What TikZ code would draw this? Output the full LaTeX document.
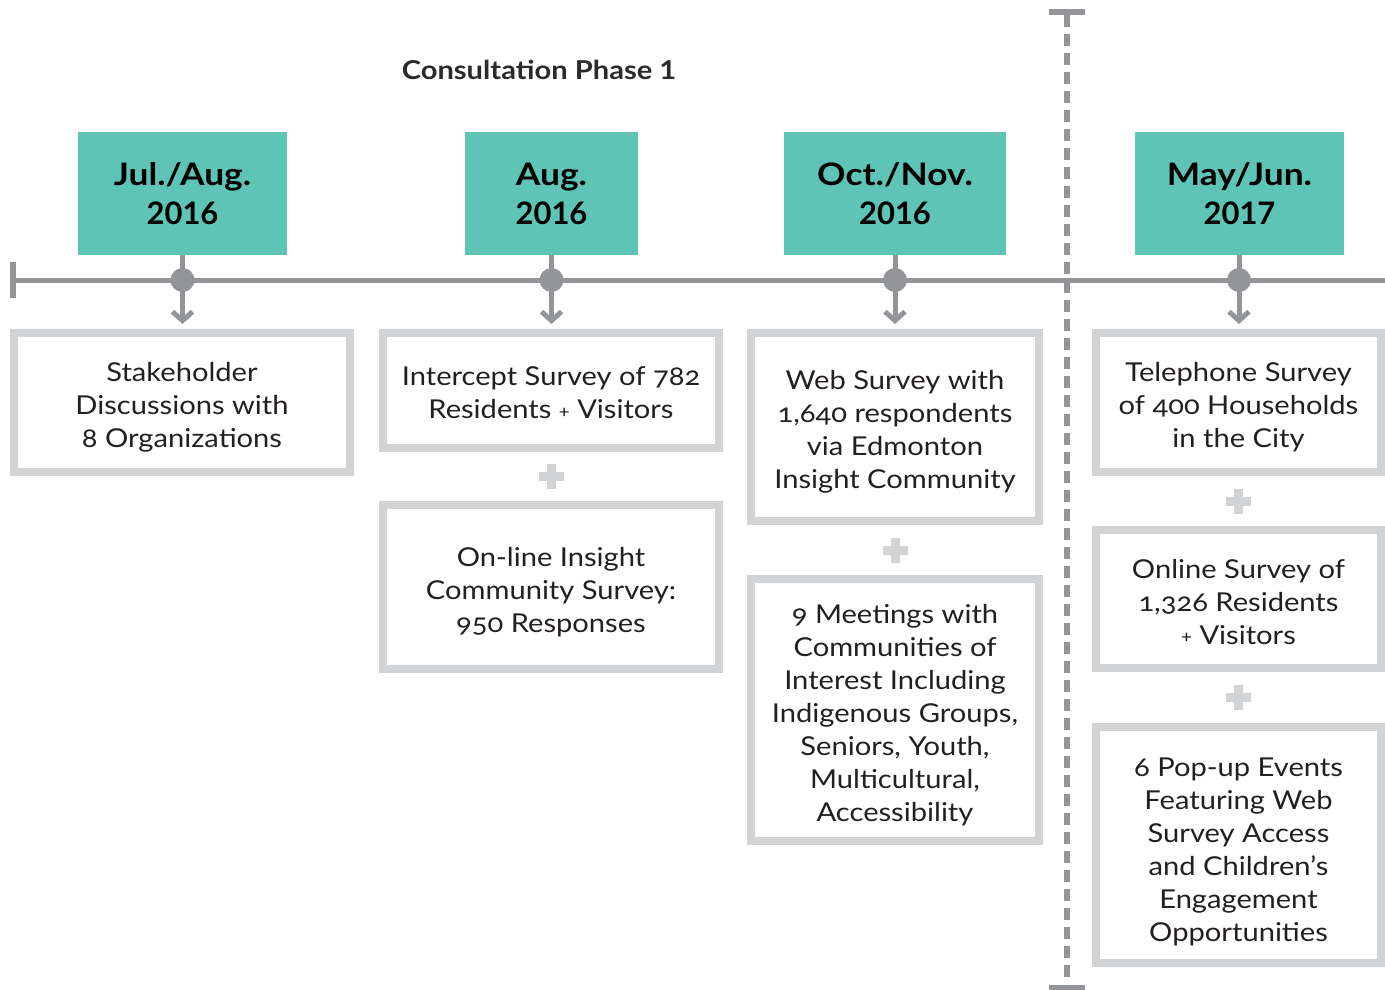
\documentclass[tikz,border=0pt]{standalone}
\usepackage{fontspec}
\setmainfont{Lato}[Numbers=OldStyle]
\usetikzlibrary{arrows.meta}
\definecolor{dateteal}{HTML}{5EC4B6}
\definecolor{linegray}{HTML}{939598}
\definecolor{boxgray}{HTML}{D1D3D4}
\definecolor{txtcol}{HTML}{231F20}
\definecolor{titlegray}{HTML}{2B2B2B}
\newcommand{\widen}{\addfontfeatures{FakeStretch=1.14}}
\newcommand{\smallplus}{\raisebox{1.5pt}{\fontsize{18}{20}\selectfont+}}
\begin{document}
\begin{tikzpicture}[x=1pt,y=-1pt,
  datebox/.style={fill=dateteal, minimum height=123pt, inner sep=0pt, align=center, text=black,
    font=\fontsize{31}{39}\selectfont\bfseries\addfontfeatures{Numbers=Lining}},
  infobox/.style={draw=boxgray, line width=8pt, inner sep=0pt},
  infotext/.style={inner sep=0pt, align=center, text=txtcol, yshift=-5.5pt,
    font=\fontsize{26}{33}\selectfont\addfontfeatures{FakeStretch=1.12},
    execute at end node={\rule[-6pt]{0pt}{6pt}}},
  tl/.style={draw=linegray, line width=5pt},
  dotn/.style={circle, fill=linegray, minimum size=24pt, inner sep=0pt},
  arr/.style={draw=linegray, line width=5pt, -{Straight Barb[length=9pt,width=20pt]}, shorten >=5pt},
  plussign/.pic={\fill[boxgray] (-12.5,-4.5) rectangle (12.5,4.5);
                 \fill[boxgray] (-4.5,-12.5) rectangle (4.5,12.5);}
]
\useasboundingbox (0,0) rectangle (1385,990);

% title
\node[font=\fontsize{26}{30}\selectfont\bfseries\addfontfeatures{Numbers=Lining,FakeStretch=1.12}, text=titlegray] (title) at (539,70) {Consultation Phase 1};

% timeline
\coordinate (tlL) at (13,280);
\coordinate (tlR) at (1385,280);
\draw[tl] (tlL) -- (tlR);
\coordinate (capT) at (13,262);
\coordinate (capB) at (13,298);
\draw[linegray, line width=6pt] (capT) -- (capB);

% date boxes
\node[datebox, minimum width=209pt] (d1) at (182.5,193.5) {{\widen Jul./Aug.}\\2016};
\node[datebox, minimum width=173pt] (d2) at (551.5,193.5) {{\widen Aug.}\\2016};
\node[datebox, minimum width=222pt] (d3) at (895,193.5) {{\widen Oct./Nov.}\\2016};
\node[datebox, minimum width=209pt] (d4) at (1239.5,193.5) {{\widen May/Jun.}\\2017};

% info boxes
\node[infobox, minimum width=336pt, minimum height=139pt, label={[infotext]center:{Stakeholder\\Discussions with\\8 Organizations}}] (A) at (182,402.5) {};
\node[infobox, minimum width=336pt, minimum height=115pt, label={[infotext]center:{Intercept Survey of 782\\Residents \smallplus{} Visitors}}] (B1) at (551,390.5) {};
\node[infobox, minimum width=336pt, minimum height=164pt, label={[infotext]center:{On-line Insight\\Community Survey:\\950 Responses}}] (B2) at (551,587) {};
\node[infobox, minimum width=288pt, minimum height=188pt, label={[infotext]center:{Web Survey with\\1,640 respondents\\via Edmonton\\Insight Community}}] (C1) at (895,427) {};
\node[infobox, minimum width=288pt, minimum height=262pt, label={[infotext]center:{9 Meetings with\\Communities of\\Interest Including\\Indigenous Groups,\\Seniors, Youth,\\Multicultural,\\Accessibility}}] (C2) at (895,710) {};
\node[infobox, minimum width=285pt, minimum height=139pt, label={[infotext]center:{Telephone Survey\\of 400 Households\\in the City}}] (D1) at (1238.5,402.5) {};
\node[infobox, minimum width=285pt, minimum height=138pt, label={[infotext]center:{Online Survey of\\1,326 Residents\\\smallplus{} Visitors}}] (D2) at (1238.5,599) {};
\node[infobox, minimum width=285pt, minimum height=236pt, label={[infotext, yshift=-2pt]center:{6 Pop-up Events\\Featuring Web\\Survey Access\\and Children's\\Engagement\\Opportunities}}] (D3) at (1238.5,845) {};

% dots, stems, arrows
\foreach \i/\b/\x in {1/A/182.5, 2/B1/551.5, 3/C1/895, 4/D1/1239}{
  \node[dotn] (dot\i) at (\x,280) {};
  \draw[tl] (d\i.south) -- (dot\i.center);
  \draw[arr] (dot\i.center) -- (dot\i |- \b.north);
}

% plus signs
\path (B1.south) -- (B2.north) coordinate[midway] (pB);
\path (C1.south) -- (C2.north) coordinate[midway] (pC);
\path (D1.south) -- (D2.north) coordinate[midway] (pD1);
\path (D2.south) -- (D3.north) coordinate[midway] (pD2);
\foreach \p in {pB,pC,pD1,pD2}{ \pic at (\p) {plussign}; }

% phase divider
\coordinate (vT) at (1067,15);
\coordinate (vB) at (1067,979);
\draw[linegray, line width=6pt, dash pattern=on 12pt off 7pt] (vT) -- (vB);
\coordinate (vcTL) at (1049,12);
\coordinate (vcTR) at (1085,12);
\coordinate (vcBL) at (1049,988);
\coordinate (vcBR) at (1085,988);
\draw[linegray, line width=6pt] (vcTL) -- (vcTR);
\draw[linegray, line width=6pt] (vcBL) -- (vcBR);
\end{tikzpicture}
\end{document}
